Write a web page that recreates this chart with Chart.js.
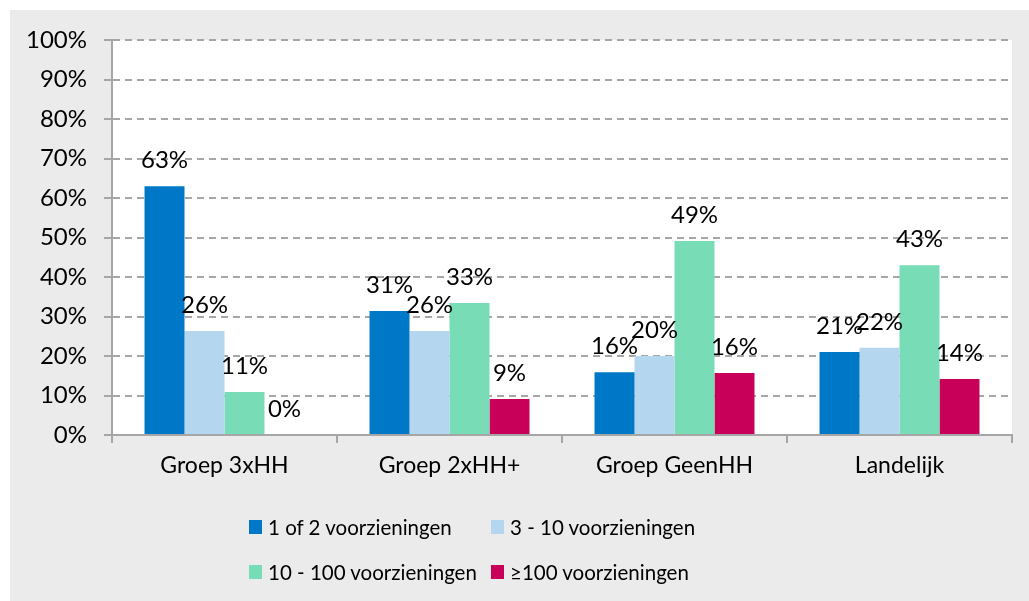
<!DOCTYPE html>
<html>
<head>
<meta charset="utf-8">
<script src="https://cdn.jsdelivr.net/npm/chart.js@4"></script>
<style>
  body { margin: 0; width: 1029px; height: 601px; background: #fff; position: relative; overflow: hidden; font-family: Lato, sans-serif; }
  #kader { position: absolute; left: 10px; top: 10px; width: 1019px; height: 591px; background: #ebebeb; }
  #grafiek { position: absolute; left: 0; top: 0; }
  .leg { position: absolute; height: 26px; display: flex; align-items: center; font-size: 20.5px; color: #000; white-space: nowrap; }
  .leg i { display: inline-block; width: 13px; height: 14px; margin-right: 6px; }
</style>
</head>
<body>
<div id="kader"></div>
<canvas id="grafiek" width="1029" height="601"></canvas>
<div id="legenda"></div>
<script>
const categorieen = ['Groep 3xHH', 'Groep 2xHH+', 'Groep GeenHH', 'Landelijk'];
const reeksNamen = ['1 of 2 voorzieningen', '3 - 10 voorzieningen', '10 - 100 voorzieningen', '≥100 voorzieningen'];
const een2 = [63, 31.4, 15.9, 21.0];
const drieTien = [26.3, 26.3, 20.0, 22.1];
const tienHonderd = [10.9, 33.4, 49.1, 43.0];
const honderdPlus = [0, 9.1, 15.7, 14.2];
const yTicks = [0, 10, 20, 30, 40, 50, 60, 70, 80, 90, 100];

const kleuren = ['#0078c8', '#b4d6ee', '#78dcb7', '#c8005a'];
const grijs = '#a6a6a6';
const familie = 'Lato, sans-serif';

// witte achtergrond van het plotgebied
const plotAchtergrond = {
    id: 'plotAchtergrond',
    beforeDraw(chart) {
        const a = chart.chartArea;
        chart.ctx.save();
        chart.ctx.fillStyle = '#ffffff';
        chart.ctx.fillRect(a.left, a.top, a.right - a.left, a.bottom - a.top);
        chart.ctx.restore();
    }
};

// percentages boven de staven
const waardeLabels = {
    id: 'waardeLabels',
    afterDatasetsDraw(chart) {
        const ctx = chart.ctx;
        ctx.save();
        ctx.font = '24px ' + familie;
        ctx.fillStyle = '#000';
        ctx.textAlign = 'center';
        ctx.textBaseline = 'alphabetic';
        chart.data.datasets.forEach((ds, i) => {
            chart.getDatasetMeta(i).data.forEach((bar, j) => {
                ctx.fillText(Math.round(ds.data[j]) + '%', bar.x, bar.y - 18);
            });
        });
        ctx.restore();
    }
};

const reeksen = [een2, drieTien, tienHonderd, honderdPlus];

const grafiek = new Chart(document.getElementById('grafiek'), {
    type: 'bar',
    data: {
        labels: categorieen,
        datasets: reeksen.map((data, i) => ({
            label: reeksNamen[i],
            data: data,
            backgroundColor: kleuren[i],
            borderWidth: 0
        }))
    },
    options: {
        responsive: false,
        animation: false,
        categoryPercentage: 0.711,
        barPercentage: 1,
        layout: { padding: { top: 40, right: 17, left: 0, bottom: 0 } },
        plugins: {
            legend: { display: false },
            tooltip: { enabled: false }
        },
        scales: {
            x: {
                grid: { display: true, drawOnChartArea: false, offset: true, color: grijs, lineWidth: 2, tickLength: 8 },
                border: { display: true, color: grijs, width: 2 },
                ticks: { color: '#000', font: { family: familie, size: 23 }, padding: 9 },
                afterFit(scale) { scale.height = 166; }
            },
            y: {
                min: 0,
                max: 100,
                afterBuildTicks(scale) { scale.ticks = yTicks.map(v => ({ value: v })); },
                grid: { color: grijs, lineWidth: 2, tickLength: 8 },
                border: { display: true, color: grijs, width: 2, dash: [7, 5] },
                ticks: { color: '#000', font: { family: familie, size: 24 }, padding: 17, callback: v => v + '%' },
                afterFit(scale) { scale.width = 112; }
            }
        }
    },
    plugins: [plotAchtergrond, waardeLabels]
});

// legenda in twee rijen van twee
const legPos = [[249, 514], [491, 514], [249, 559], [491, 559]];
const legenda = document.getElementById('legenda');
grafiek.data.datasets.forEach((ds, i) => {
    const el = document.createElement('div');
    el.className = 'leg';
    el.style.left = legPos[i][0] + 'px';
    el.style.top = legPos[i][1] + 'px';
    el.innerHTML = '<i style="background:' + ds.backgroundColor + '"></i>' + ds.label;
    legenda.appendChild(el);
});
</script>
</body>
</html>
